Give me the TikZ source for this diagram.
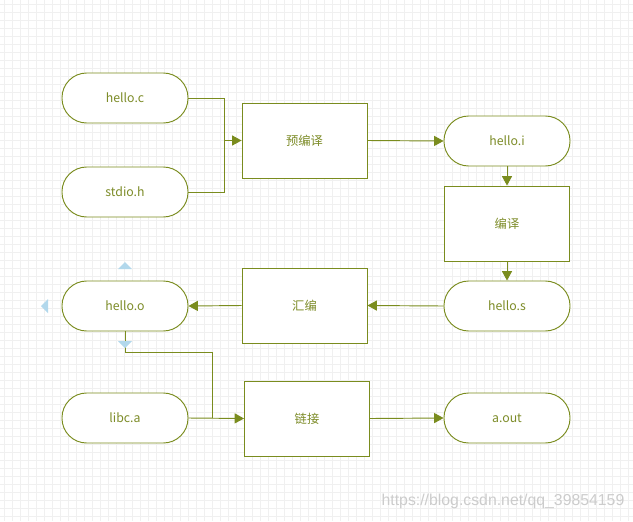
\documentclass[tikz,border=0pt]{standalone}
\usepackage{fontspec}
\setmainfont{Noto Sans CJK SC}
\newfontfamily\markfont{Liberation Sans}
\usetikzlibrary{arrows.meta}
\definecolor{olive}{RGB}{122,140,30}
\definecolor{textOlive}{RGB}{125,140,40}
\definecolor{gridline}{RGB}{240,240,240}
\definecolor{handle}{RGB}{178,216,236}

\begin{document}
\begin{tikzpicture}[x=0.03cm, y=-0.03cm,
  terminal/.style={draw=olive, line width=0.8pt, fill=white, rounded corners=0.74cm,
    minimum width=3.78cm, minimum height=1.5cm, font=\fontsize{10.5}{12}\selectfont, text=textOlive},
  process/.style={draw=olive, line width=0.8pt, fill=white,
    minimum width=3.75cm, minimum height=2.25cm, font=\fontsize{10.5}{12}\selectfont, text=textOlive},
  wire/.style={draw=olive, line width=0.8pt},
  flow/.style={wire, -{Triangle[length=0.28cm,width=0.3cm]}}]

% ── Canvas & grid ──
\useasboundingbox (0,0) rectangle (633,521);
\fill[white] (0,0) rectangle (633,521);
\foreach \gx in {4,12,...,632} \draw[gridline, line width=0.5pt] (\gx,0) -- (\gx,521);
\foreach \gy in {4,12,...,520} \draw[gridline, line width=0.5pt] (0,\gy) -- (633,\gy);

% ── Inputs ──
\node[terminal] (hc) at (125, 98) {hello.c};
\node[terminal] (sh) at (125,192) {stdio.h};

% ── Pipeline ──
\node[process]  (pre)  at (304.5,140.5) {预编译};
\node[terminal] (hi)   at (507,141)     {hello.i};
\node[process]  (comp) at (507,223.5)   {编译};
\node[terminal] (hs)   at (507,306)     {hello.s};
\node[process]  (asm)  at (304.5,305.5) {汇编};
\node[terminal] (ho)   at (125,306)     {hello.o};
\node[terminal] (lib)  at (125,418)     {libc.a};
\node[process]  (link) at (307,418.5)   {链接};
\node[terminal] (out)  at (507,418)     {a.out};

% ── Connectors ──
\coordinate (prejoin) at (224,140.5);
\draw[wire] (hc.east) -| (prejoin);
\draw[wire] (sh.east) -| (prejoin);
\draw[flow] (prejoin) -- (pre.west);
\draw[flow] (pre.east) -- (hi.west);
\draw[flow] (hi.south) -- (comp.north);
\draw[flow] (comp.south) -- (hs.north);
\draw[flow] (hs.west) -- (asm.east);
\draw[flow] (asm.west) -- (ho.east);

\coordinate (linkturn) at (212,352);
\coordinate (linkjoin) at (212,418);
\draw[wire] (ho.south) |- (linkturn) -- (linkjoin);
\draw[flow] (lib.east) -- (link.west);
\draw[flow] (link.east) -- (out.west);

% ── Selection handles on hello.o ──
\fill[handle] (118,269) -- (132,269) -- (125,262) -- cycle;
\fill[handle] (118,341) -- (132,341) -- (125,348) -- cycle;
\fill[handle] (48,299) -- (48,313) -- (41,306) -- cycle;

% ── Watermark ──
\node[font=\markfont\fontsize{13.5}{15}\selectfont, text=black!20] (mark) at (503,501) {https://blog.csdn.net/qq\_39854159};

\end{tikzpicture}
\end{document}
